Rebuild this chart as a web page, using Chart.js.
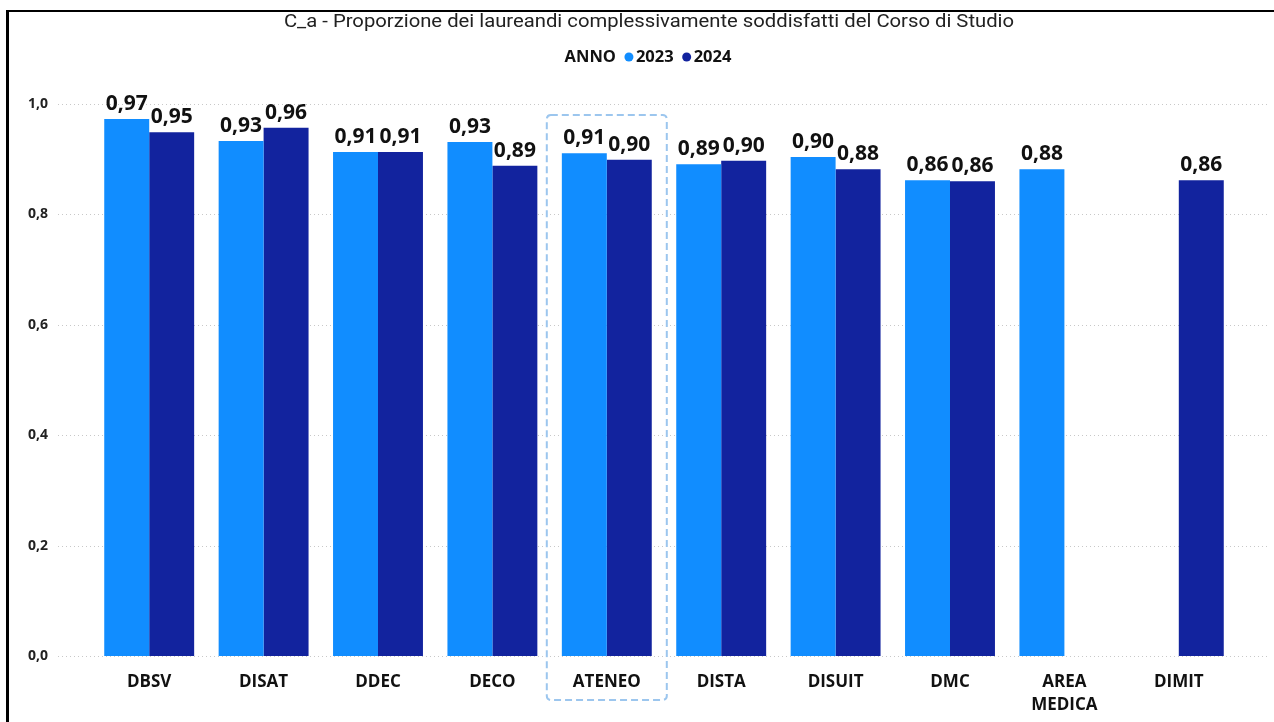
<!DOCTYPE html>
<html>
<head>
<meta charset="utf-8">
<script src="https://cdn.jsdelivr.net/npm/chart.js@4.4.1/dist/chart.umd.min.js"></script>
<style>
  html, body { margin: 0; padding: 0; background: #fff; }
  #wrap { position: relative; width: 1274px; height: 722px; }
  #frame { position: absolute; left: 6px; top: 10px; right: 0; bottom: 0;
           border-top: 2px solid #000; border-left: 3px solid #000; pointer-events: none; }
</style>
</head>
<body>
<div id="wrap">
  <canvas id="mycanvas" width="1274" height="722"></canvas>
  <div id="frame"></div>
</div>
<script>
var titleText = 'C_a - Proporzione dei laureandi complessivamente soddisfatti del Corso di Studio';
var legendTitle = 'ANNO';
var categories = ['DBSV', 'DISAT', 'DDEC', 'DECO', 'ATENEO', 'DISTA', 'DISUIT', 'DMC', ['AREA', 'MEDICA'], 'DIMIT'];
var years = ['2023', '2024'];
var values2023 = [0.973, 0.933, 0.913, 0.931, 0.911, 0.891, 0.904, 0.862, 0.882, null];
var values2024 = [0.949, 0.957, 0.913, 0.888, 0.899, 0.897, 0.882, 0.860, null, 0.862];
var yTicks = [0, 0.2, 0.4, 0.6, 0.8, 1.0];
var highlighted = 4; // ATENEO

var colors = ['#118DFF', '#12239E'];

function fmt(v) {
	return v.toFixed(2).replace('.', ',');
}

// title, legend, dotted grid, highlight box and value labels
var decorations = {
	id: 'decorations',
	beforeDatasetsDraw: function(chart) {
		var ctx = chart.ctx, y = chart.scales.y;
		ctx.save();
		ctx.strokeStyle = '#c8c8c8';
		ctx.lineWidth = 1;
		ctx.setLineDash([1, 3]);
		yTicks.forEach(function(t) {
			var py = Math.round(y.getPixelForValue(t)) + 0.5;
			ctx.beginPath();
			ctx.moveTo(58, py);
			ctx.lineTo(1268, py);
			ctx.stroke();
		});
		ctx.restore();
	},
	afterDatasetsDraw: function(chart) {
		var ctx = chart.ctx, x = chart.scales.x, y = chart.scales.y;
		ctx.save();

		// highlight box
		var cx = x.getPixelForValue(highlighted);
		var half = 60;
		var top = y.getPixelForValue(1) + 11;
		var bottom = chart.height - 22;
		ctx.strokeStyle = '#9cc6ee';
		ctx.lineWidth = 2;
		ctx.setLineDash([7, 4]);
		ctx.beginPath();
		ctx.roundRect(cx - half, top, half * 2, bottom - top, 4);
		ctx.stroke();
		ctx.setLineDash([]);

		// value labels
		ctx.fillStyle = '#111';
		ctx.font = 'bold 21px "Open Sans"';
		ctx.textAlign = 'center';
		ctx.textBaseline = 'alphabetic';
		chart.data.datasets.forEach(function(ds, i) {
			var meta = chart.getDatasetMeta(i);
			meta.data.forEach(function(bar, j) {
				if (ds.data[j] == null) return;
				ctx.fillText(fmt(ds.data[j]), bar.x, bar.y - 9);
			});
		});

		// title (stretched a bit, the original font is wider)
		ctx.save();
		ctx.font = '18px Roboto';
		ctx.fillStyle = '#222';
		ctx.textBaseline = 'middle';
		ctx.translate(649, 22);
		ctx.scale(1.125, 1);
		ctx.fillText(titleText, 0, 0);
		ctx.restore();

		// legend
		ctx.font = 'bold 16.5px "Open Sans"';
		ctx.textAlign = 'left';
		ctx.textBaseline = 'middle';
		var total = ctx.measureText(legendTitle).width;
		chart.data.datasets.forEach(function(ds) { total += 20 + ctx.measureText(ds.label).width; });
		var lx = 648 - total / 2, ly = 57;
		ctx.fillStyle = '#111';
		ctx.fillText(legendTitle, lx, ly);
		lx += ctx.measureText(legendTitle).width + 13;
		chart.data.datasets.forEach(function(ds) {
			ctx.fillStyle = ds.backgroundColor;
			ctx.beginPath();
			ctx.arc(lx, ly, 4.5, 0, Math.PI * 2);
			ctx.fill();
			ctx.fillStyle = '#111';
			ctx.fillText(ds.label, lx + 7, ly);
			lx += 7 + ctx.measureText(ds.label).width + 13;
		});
		ctx.restore();
	}
};

var chartdata = {
	labels: categories,
	datasets: [
		{ label: years[0], backgroundColor: colors[0], data: values2023 },
		{ label: years[1], backgroundColor: colors[1], data: values2024 }
	]
};

var ctx = document.getElementById('mycanvas');

var barGraph = new Chart(ctx, {
	type: 'bar',
	data: chartdata,
	options: {
		responsive: false,
		animation: false,
		layout: { padding: { top: 104, right: 38, left: 0, bottom: 0 } },
		datasets: { bar: { categoryPercentage: 0.786, barPercentage: 1, skipNull: false } },
		plugins: {
			legend: { display: false },
			title: { display: false },
			tooltip: { enabled: false }
		},
		scales: {
			x: {
				grid: { display: false },
				border: { display: false },
				ticks: {
					color: '#111',
					font: { family: 'Open Sans', size: 17, weight: 'bold', lineHeight: 1.35 },
					padding: 7,
					maxRotation: 0,
					autoSkip: false
				},
				afterFit: function(scale) { scale.height = 66; }
			},
			y: {
				min: 0,
				max: 1,
				afterBuildTicks: function(scale) {
					scale.ticks = yTicks.map(function(v) { return { value: v }; });
				},
				grid: { display: false, drawTicks: false },
				border: { display: false },
				ticks: {
					color: '#222',
					font: { family: 'Open Sans', size: 14, weight: 'bold' },
					padding: 44,
					callback: function(v) { return v.toFixed(1).replace('.', ','); }
				},
				afterFit: function(scale) { scale.width = 92; }
			}
		}
	},
	plugins: [decorations]
});
</script>
</body>
</html>
